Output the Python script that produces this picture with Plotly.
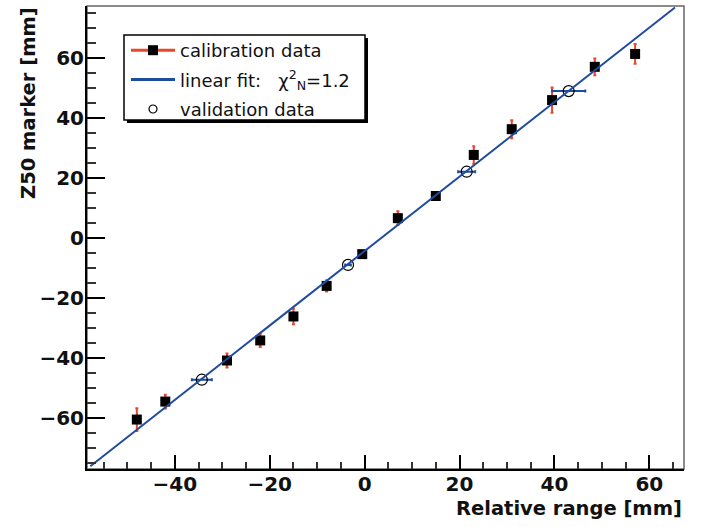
import plotly.graph_objects as go

# ---- data ----
cal_x = [-48.0, -42.0, -29.0, -22.0, -15.0, -8.0, -0.5, 7.0, 15.0, 23.0, 31.0, 39.5, 48.5, 57.0]
cal_y = [-60.5, -54.5, -40.8, -34.1, -26.1, -15.9, -5.3, 6.7, 14.1, 27.8, 36.4, 46.1, 57.2, 61.5]
cal_err = [3.8, 2.3, 2.3, 2.2, 2.6, 1.9, 1.0, 2.3, 0.6, 2.9, 3.0, 4.2, 2.8, 3.3]

val_x = [-34.3, -3.5, 21.5, 43.0]
val_y = [-47.2, -8.9, 22.2, 49.1]
val_xerr = [2.1, 0.6, 1.8, 3.5]

fit_x = [-57.8, 65.4]
fit_y = [-76.1, 77.0]

RED = "#e8472a"
BLUE = "#1f4c9e"
FONT = "DejaVu Sans"

fig = go.Figure()

# calibration data
fig.add_trace(go.Scatter(
    x=cal_x, y=cal_y, mode="markers", showlegend=False,
    error_y=dict(type="data", array=cal_err, color=RED, thickness=2, width=1.5),
    marker=dict(symbol="square", size=10, color="black"),
))
# validation data
fig.add_trace(go.Scatter(
    x=val_x, y=val_y, mode="markers", showlegend=False,
    error_x=dict(type="data", array=val_xerr, color=BLUE, thickness=2, width=1.5),
    marker=dict(symbol="circle-open", size=11, color="black", line=dict(width=1.2)),
))
# linear fit
fig.add_trace(go.Scatter(
    x=fit_x, y=fit_y, mode="lines", showlegend=False,
    line=dict(color=BLUE, width=2),
))

# legend entries
fig.add_trace(go.Scatter(
    x=[None], y=[None], mode="lines+markers", name="calibration data",
    legendgroup="a", legendrank=1,
    line=dict(color=RED, width=3),
    marker=dict(symbol="square", size=10, color="black"),
))
fig.add_trace(go.Scatter(
    x=[None], y=[None], mode="lines",
    name="linear fit:\u00a0\u00a0\u00a0χ<sup>2</sup><sub>N</sub>=1.2",
    legendgroup="b", legendrank=2,
    line=dict(color=BLUE, width=3),
))
fig.add_trace(go.Scatter(
    x=[None], y=[None], mode="markers", name="validation data",
    legendgroup="c", legendrank=3,
    marker=dict(symbol="circle-open", size=8, color="black", line=dict(width=1.2)),
))

L, R, T, B = 87, 18, 6, 58
W, H = 702, 527
pw, ph = W - L - R, H - T - B


def px(x):
    return (x - L) / pw


def py(y):
    return (H - B - y) / ph


shapes = [
    # gray frame (top/right)
    dict(type="rect", xref="paper", yref="paper", x0=0, x1=1, y0=0, y1=1,
         line=dict(color="#666", width=1.5), layer="below"),
    # legend shadow
    dict(type="rect", xref="paper", yref="paper",
         x0=px(127), x1=px(368), y0=py(123), y1=py(38),
         fillcolor="black", line=dict(width=0), layer="above"),
    # legend box
    dict(type="rect", xref="paper", yref="paper",
         x0=px(124), x1=px(365), y0=py(120), y1=py(35),
         fillcolor="white", line=dict(color="black", width=1.5), layer="above"),
]

axis_common = dict(
    showgrid=False, zeroline=False, showline=True, linecolor="black", linewidth=2,
    ticks="inside", tickcolor="black", tickwidth=1.5,
    tickfont=dict(family=FONT, size=20, color="#111", weight="bold"),
    dtick=20, tick0=0,
)

fig.update_xaxes(range=[-58.5, 67.3], ticklen=14, ticklabelstandoff=-4,
                 minor=dict(dtick=5, ticks="inside", ticklen=7, tickcolor="#333", tickwidth=1.5),
                 **axis_common)
fig.update_yaxes(range=[-77, 77.5], ticklen=18, ticklabelstandoff=-3,
                 minor=dict(dtick=5, ticks="inside", ticklen=9, tickcolor="#333", tickwidth=1.5),
                 **axis_common)

fig.update_layout(
    width=W, height=H,
    margin=dict(l=L, r=R, t=T, b=B, pad=0),
    paper_bgcolor="white", plot_bgcolor="white",
    font=dict(family=FONT, color="#111"),
    shapes=shapes,
    legend=dict(
        x=px(126), y=py(32), xanchor="left", yanchor="top",
        bgcolor="rgba(0,0,0,0)", borderwidth=0,
        font=dict(family=FONT, size=18, color="#111"),
        traceorder="grouped", tracegroupgap=3, itemwidth=44,
    ),
    annotations=[
        dict(text="<b>Relative range [mm]</b>", xref="paper", yref="paper",
             x=1, y=py(508), xanchor="right", yanchor="middle", showarrow=False,
             font=dict(family=FONT, size=19.5, color="#111")),
        dict(text="<b>Z50 marker [mm]</b>", xref="paper", yref="paper",
             x=px(28), y=py(5), xanchor="center", yanchor="top", textangle=-90,
             showarrow=False, font=dict(family=FONT, size=19.5, color="#111")),
    ],
)

fig.write_html("out.html", config={"displayModeBar": False},
               post_script="document.body.style.margin='0px';")
